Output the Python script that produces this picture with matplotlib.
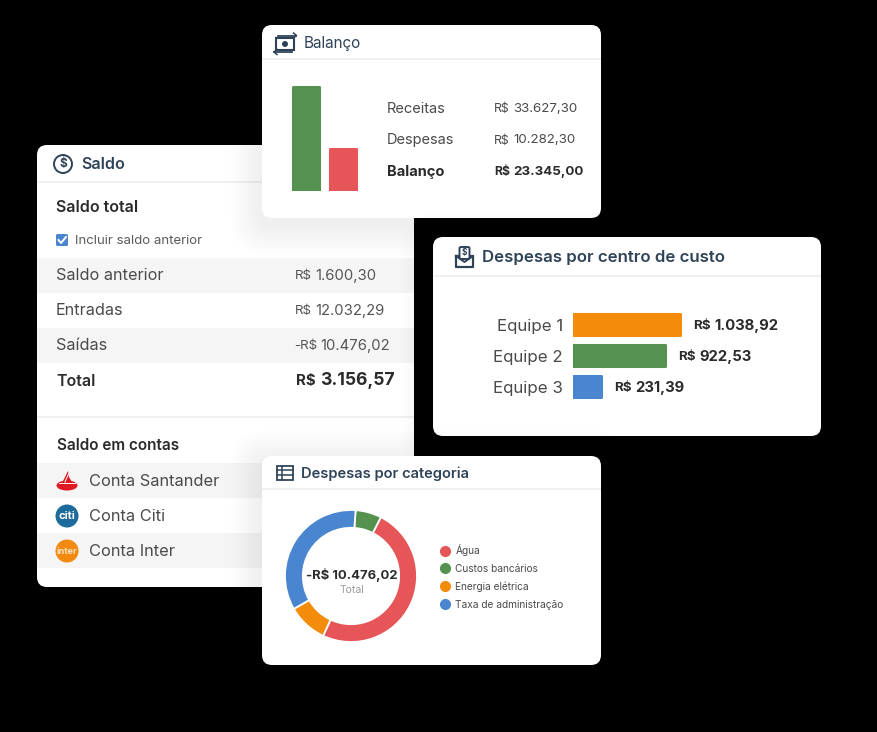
import matplotlib
matplotlib.use("Agg")
import matplotlib.pyplot as plt
from matplotlib.lines import Line2D
from matplotlib.patches import Circle, Ellipse, FancyBboxPatch, Polygon, Rectangle

W, H = 878, 732

GREEN = "#55924f"
RED = "#e65558"
ORANGE = "#f28c0a"
BLUE = "#4a86d0"
NAVY = "#2f4358"
DARK = "#2b2b2b"
GREY = "#4a4a4a"
STRIPE = "#f5f5f6"

# bar heights
balanco_names = ["Receitas", "Despesas"]
balanco_bars = [33627.30, 13460]
balanco_rows = ["Receitas", "Despesas", "Balanço"]
balanco_amounts = ["33.627,30", "10.282,30", "23.345,00"]

equipes = ["Equipe 1", "Equipe 2", "Equipe 3"]
equipe_bars = [1038.92, 894, 275]
equipe_amounts = ["1.038,92", "922,53", "231,39"]

saldo_rows = ["Saldo anterior", "Entradas", "Saídas"]
saldo_amounts = ["1.600,30", "12.032,29", "10.476,02"]
contas = ["Conta Santander", "Conta Citi", "Conta Inter"]

categorias = ["Água", "Custos bancários", "Energia elétrica", "Taxa de administração"]
categoria_values = [5180, 670, 1020, 3606]

plt.rcParams["font.family"] = ["Inter", "DejaVu Sans"]

fig = plt.figure(figsize=(W / 100, H / 100), dpi=100, facecolor="black")
canvas = fig.add_axes([0, 0, 1, 1])
canvas.set_xlim(0, W)
canvas.set_ylim(H, 0)
canvas.axis("off")


def px_axes(x0, y0, x1, y1):
    ax = fig.add_axes([x0 / W, 1 - y1 / H, (x1 - x0) / W, (y1 - y0) / H])
    ax.patch.set_alpha(0)
    for s in ax.spines.values():
        s.set_visible(False)
    return ax


def card(x0, y0, x1, y1, z, head_y):
    # soft shadow, only shows up over another card
    for grow in range(2, 34, 2):
        canvas.add_patch(FancyBboxPatch((x0 - grow, y0 - grow + 6), x1 - x0 + 2 * grow, y1 - y0 + 2 * grow,
                                        boxstyle="round,pad=0,rounding_size=%d" % (grow + 8), fc="black", ec="none",
                                        alpha=0.004, zorder=z - 0.5))
    canvas.add_patch(FancyBboxPatch((x0, y0), x1 - x0, y1 - y0, boxstyle="round,pad=0,rounding_size=10",
                                    fc="white", ec="none", zorder=z))
    canvas.plot([x0, x1], [head_y, head_y], color="#eef0f2", lw=1.4, zorder=z + 0.1, solid_capstyle="butt")


def txt(x, y, s, size, color=GREY, weight="normal", ha="left", z=10):
    canvas.text(x, y + 0.8, s, fontsize=size, color=color, fontweight=weight, ha=ha, va="center", zorder=z)


def money(x, gap_x, y, s, size, color=GREY, weight="normal", neg=False, small=9.6, z=10):
    # small R$ then the number, as in the cards
    label = "-R$" if neg else "R$"
    canvas.text(gap_x, y + 1.2, label, fontsize=small, color=color, fontweight=weight, ha="right", va="center", zorder=z)
    canvas.text(x, y + 0.8, s, fontsize=size, color=color, fontweight=weight, ha="left", va="center", zorder=z)


# ---- Saldo card
card(37, 145, 414, 587, 1, 182)
z = 2
canvas.add_patch(Circle((63, 164), 9, fc="none", ec=NAVY, lw=1.4, zorder=z))
txt(63, 163.5, "$", 8.5, NAVY, "bold", ha="center", z=z)
txt(81, 164, "Saldo", 11.6, NAVY, "semibold", z=z)
txt(56, 207, "Saldo total", 11.5, DARK, "semibold", z=z)
canvas.add_patch(FancyBboxPatch((56, 234), 12, 12, boxstyle="round,pad=0,rounding_size=1.5", fc=BLUE, ec="none", zorder=z))
canvas.plot([58.5, 61, 66], [240, 243, 237], color="white", lw=1.4, zorder=z + 0.1)
txt(75, 240, "Incluir saldo anterior", 9.5, "#5a5a5a", z=z)

for y0 in [258, 328, 463, 533]:
    canvas.add_patch(Rectangle((37, y0), 377, 35, fc=STRIPE, ec="none", zorder=1.2))
for y, name, amount, x_num, x_rs, neg in zip([275, 310, 345], saldo_rows, saldo_amounts,
                                            [315, 315, 320], [312, 312, 317], [False, False, True]):
    txt(56, y, name, 11.7, z=z)
    money(x_num, x_rs, y, amount, 10.7, neg=neg, color="#555555", z=z)
txt(56, 381, "Total", 11.5, DARK, "semibold", z=z)
money(320, 316, 380, "3.156,57", 12.7, DARK, "bold", small=10.8, z=z)
canvas.plot([37, 414], [417, 417], color="#eef0f2", lw=1.4, zorder=z, solid_capstyle="butt")
txt(57, 445, "Saldo em contas", 11, DARK, "semibold", z=z)
for y, name in zip([481, 516, 551], contas):
    txt(89, y, name, 11.8, z=z)
# bank logos
canvas.add_patch(Ellipse((67, 485.5), 21, 10, fc="#e01a22", ec="none", zorder=z))
canvas.add_patch(Polygon([[62, 483], [65, 477], [68, 471], [69, 477], [72.5, 483]], fc="#e01a22", ec="none", zorder=z))
canvas.plot([59, 75], [482.5, 482.5], color="white", lw=0.7, zorder=z + 0.1)
canvas.plot([65, 68.5], [482, 474], color="white", lw=0.7, zorder=z + 0.1)
canvas.add_patch(Circle((67, 516), 11.5, fc="#1d6a9c", ec="none", zorder=z))
txt(67, 515.5, "citi", 8, "white", "bold", ha="center", z=z + 0.1)
canvas.add_patch(Circle((67, 551), 11.5, fc="#f28a12", ec="none", zorder=z))
txt(67, 550.5, "inter", 6.5, "#fbe3c2", "bold", ha="center", z=z + 0.1)

# ---- Balanço card
card(262, 25, 601, 218, 3, 59)
z = 4
canvas.add_patch(Rectangle((276, 38), 18, 12, fc="none", ec=NAVY, lw=1.5, zorder=z))
canvas.add_patch(Circle((285, 44), 3, fc=NAVY, ec="none", zorder=z))
canvas.plot([278, 296], [35.5, 35.5], color=NAVY, lw=1.3, zorder=z)
canvas.plot([274, 292], [52, 52], color=NAVY, lw=1.3, zorder=z)
canvas.plot([293.5, 296.5, 293.5], [33, 35.5, 38], color=NAVY, lw=1.1, zorder=z)
canvas.plot([277, 274, 277], [49.5, 52, 54.5], color=NAVY, lw=1.1, zorder=z)
txt(304, 43, "Balanço", 11, NAVY, z=z)
for y, name, amount, w in zip([108, 139.5, 171], balanco_rows, balanco_amounts, ["normal", "normal", "bold"]):
    col = DARK if w == "bold" else GREY
    txt(387, y, name, 10.5, col, w, z=z)
    money(513, 510, y, amount, 9.6, col, w, small=8.8, z=z)

ax_bal = px_axes(285, 80, 365, 191)
bars = ax_bal.bar(range(len(balanco_bars)), balanco_bars, width=0.676, color=[GREEN, RED],
                  edgecolor=[GREEN, RED], linewidth=2.2)
for b in bars:
    b.set_joinstyle("round")
ax_bal.set_xlim(-0.5676, 1.5946)
ax_bal.set_ylim(0, 36000)
ax_bal.set_xticks([])
ax_bal.set_yticks([])

# ---- Despesas por centro de custo card
card(433, 237, 821, 436, 5, 276)
z = 6
canvas.plot([456, 456, 473, 473, 456], [256, 266.5, 266.5, 256, 256], color=NAVY, lw=1.6, zorder=z)
canvas.add_patch(FancyBboxPatch((459.5, 247), 10, 12, boxstyle="round,pad=0,rounding_size=1.5", fc="white", ec=NAVY, lw=1.4, zorder=z + 0.1))
canvas.plot([456, 464.5, 473], [256, 262, 256], color=NAVY, lw=1.4, zorder=z + 0.2)
txt(464.5, 252, "$", 6, NAVY, "bold", ha="center", z=z + 0.3)
txt(482, 257, "Despesas por centro de custo", 12.1, NAVY, "semibold", z=z)

ax_eq = px_axes(573, 306, 723, 406)
ypos = [325, 356, 387]
hbars = ax_eq.barh(ypos, equipe_bars, height=21, color=[ORANGE, GREEN, BLUE],
                   edgecolor=[ORANGE, GREEN, BLUE], linewidth=2.2)
for b in hbars:
    b.set_joinstyle("round")
ax_eq.set_xlim(0, 1450)
ax_eq.set_ylim(406, 306)
ax_eq.set_xticks([])
ax_eq.set_yticks(ypos, equipes, fontsize=12.2, color=GREY)
ax_eq.tick_params(axis="y", length=0, pad=7.2)
for y, amount, x_num, x_rs in zip(ypos, equipe_amounts, [714, 699, 635], [711, 696, 632]):
    money(x_num, x_rs, y, amount, 10.7, DARK, "bold", small=9.6, z=z)

# ---- Despesas por categoria card
card(262, 456, 601, 665, 7, 489)
z = 8
canvas.add_patch(Rectangle((277, 465.5), 16, 14, fc="none", ec=NAVY, lw=1.3, zorder=z))
canvas.plot([277, 293], [470, 470], color=NAVY, lw=1.1, zorder=z)
canvas.plot([277, 293], [475, 475], color=NAVY, lw=1.1, zorder=z)
canvas.plot([282, 282], [465.5, 479.5], color=NAVY, lw=1.1, zorder=z)
txt(301, 473, "Despesas por categoria", 10.6, NAVY, "semibold", z=z)

ax_pie = px_axes(351 - 72.6, 576 - 72.6, 351 + 72.6, 576 + 72.6)
colors = [RED, GREEN, ORANGE, BLUE]
# order around the ring, clockwise from just right of the top
ring = [1, 0, 2, 3]
ax_pie.pie([categoria_values[i] for i in ring], colors=[colors[i] for i in ring], startangle=86,
           counterclock=False, radius=1,
           wedgeprops={"width": 0.27, "edgecolor": "white", "linewidth": 1.3})
ax_pie.set_xlim(-1.1, 1.1)
ax_pie.set_ylim(-1.1, 1.1)
txt(351.5, 574, "-R$ 10.476,02", 9.4, DARK, "bold", ha="center", z=z)
txt(351.5, 589, "Total", 7.5, "#9a9a9a", ha="center", z=z)

handles = [Line2D([], [], marker="o", ls="none", ms=7, color=c) for c in colors]
canvas.legend(handles, categorias, loc="upper left", bbox_to_anchor=(437 / W, 1 - 544.5 / H),
              bbox_transform=fig.transFigure, frameon=False, fontsize=7.3, labelcolor=GREY,
              handletextpad=0.2, labelspacing=0.74, borderpad=0, borderaxespad=0,
              handlelength=1.6).set_zorder(z)

fig.savefig("out.png", dpi=100, facecolor="black")
